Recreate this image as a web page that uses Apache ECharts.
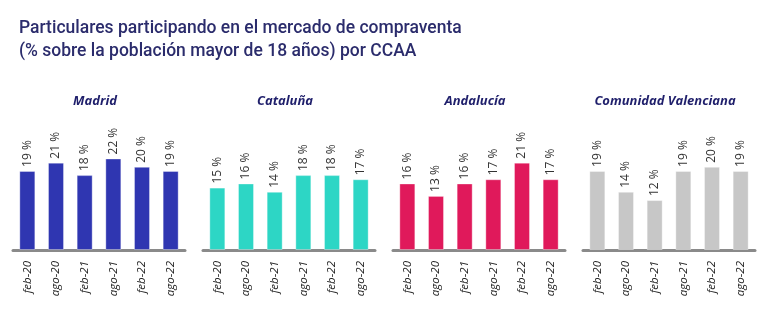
<!DOCTYPE html>
<html>
<head>
<meta charset="utf-8">
<script src="https://cdn.jsdelivr.net/npm/echarts@6/dist/echarts.min.js"></script>
<style>
  html, body { margin: 0; padding: 0; background: #ffffff; }
  #chart { width: 768px; height: 329px; }
</style>
</head>
<body>
<div id="chart"></div>
<script>
// Periods shown in every panel
const periods = ['feb-20', 'ago-20', 'feb-21', 'ago-21', 'feb-22', 'ago-22'];

// Regions and their colours
const regions = ['Madrid', 'Cataluña', 'Andalucía', 'Comunidad Valenciana'];
const regionColors = ['#2f36b1', '#2dd6c5', '#e0195b', '#c7c7c7'];

// Share of adults taking part in the buy/sell market (%)
const madrid = [19, 21, 18, 22, 20, 19];
const cataluna = [15, 16, 14, 18, 18, 17];
const andalucia = [16, 13, 16, 17, 21, 17];
const valenciana = [19, 14, 12, 19, 20, 19];
const regionValues = [madrid, cataluna, andalucia, valenciana];

const chartTitle = 'Particulares participando en el mercado de compraventa\n(% sobre la población mayor de 18 años) por CCAA';

const panelStep = 190;
const gridLeft0 = 13;
const gridWidth = 172;

const grids = [], xAxes = [], yAxes = [], series = [];
const titles = [{
  text: chartTitle,
  left: 14,
  top: 12,
  textStyle: {
    fontFamily: 'Roboto',
    fontSize: 17.5,
    fontWeight: 500,
    lineHeight: 23,
    color: '#2b2c6c'
  }
}];

regions.forEach((name, i) => {
  const left = gridLeft0 + i * panelStep;
  grids.push({ left: left, width: gridWidth, top: 146, bottom: 79 });
  titles.push({
    text: name,
    left: left + gridWidth / 2 - 9,
    top: 90,
    textAlign: 'center',
    textStyle: {
      fontFamily: 'Open Sans',
      fontSize: 13,
      fontWeight: 'bold',
      fontStyle: 'italic',
      color: '#1f1f6b'
    }
  });
  xAxes.push({
    type: 'category',
    gridIndex: i,
    data: periods,
    axisLine: { lineStyle: { color: '#8a8a8a', width: 3 } },
    axisTick: { show: false },
    axisLabel: {
      rotate: 90,
      margin: 11,
      fontFamily: 'Open Sans',
      fontStyle: 'italic',
      fontSize: 11.5,
      color: '#222222'
    }
  });
  yAxes.push({
    type: 'value',
    gridIndex: i,
    min: 0,
    max: 25,
    show: false,
    splitLine: { show: false }
  });
  series.push({
    type: 'bar',
    name: name,
    xAxisIndex: i,
    yAxisIndex: i,
    data: regionValues[i],
    barWidth: 16,
    itemStyle: {
      color: regionColors[i],
      borderColor: 'rgba(255,255,255,0.35)',
      borderWidth: 1
    },
    label: {
      show: true,
      position: 'top',
      distance: 4,
      rotate: 90,
      align: 'left',
      verticalAlign: 'middle',
      formatter: '{c} %',
      fontFamily: 'Open Sans',
      fontSize: 12,
      fontWeight: 500,
      color: '#333333'
    }
  });
});

const chart = echarts.init(document.getElementById('chart'), null, { renderer: 'canvas' });
chart.setOption({
  animation: false,
  backgroundColor: '#ffffff',
  title: titles,
  grid: grids,
  xAxis: xAxes,
  yAxis: yAxes,
  series: series
});
</script>
</body>
</html>
